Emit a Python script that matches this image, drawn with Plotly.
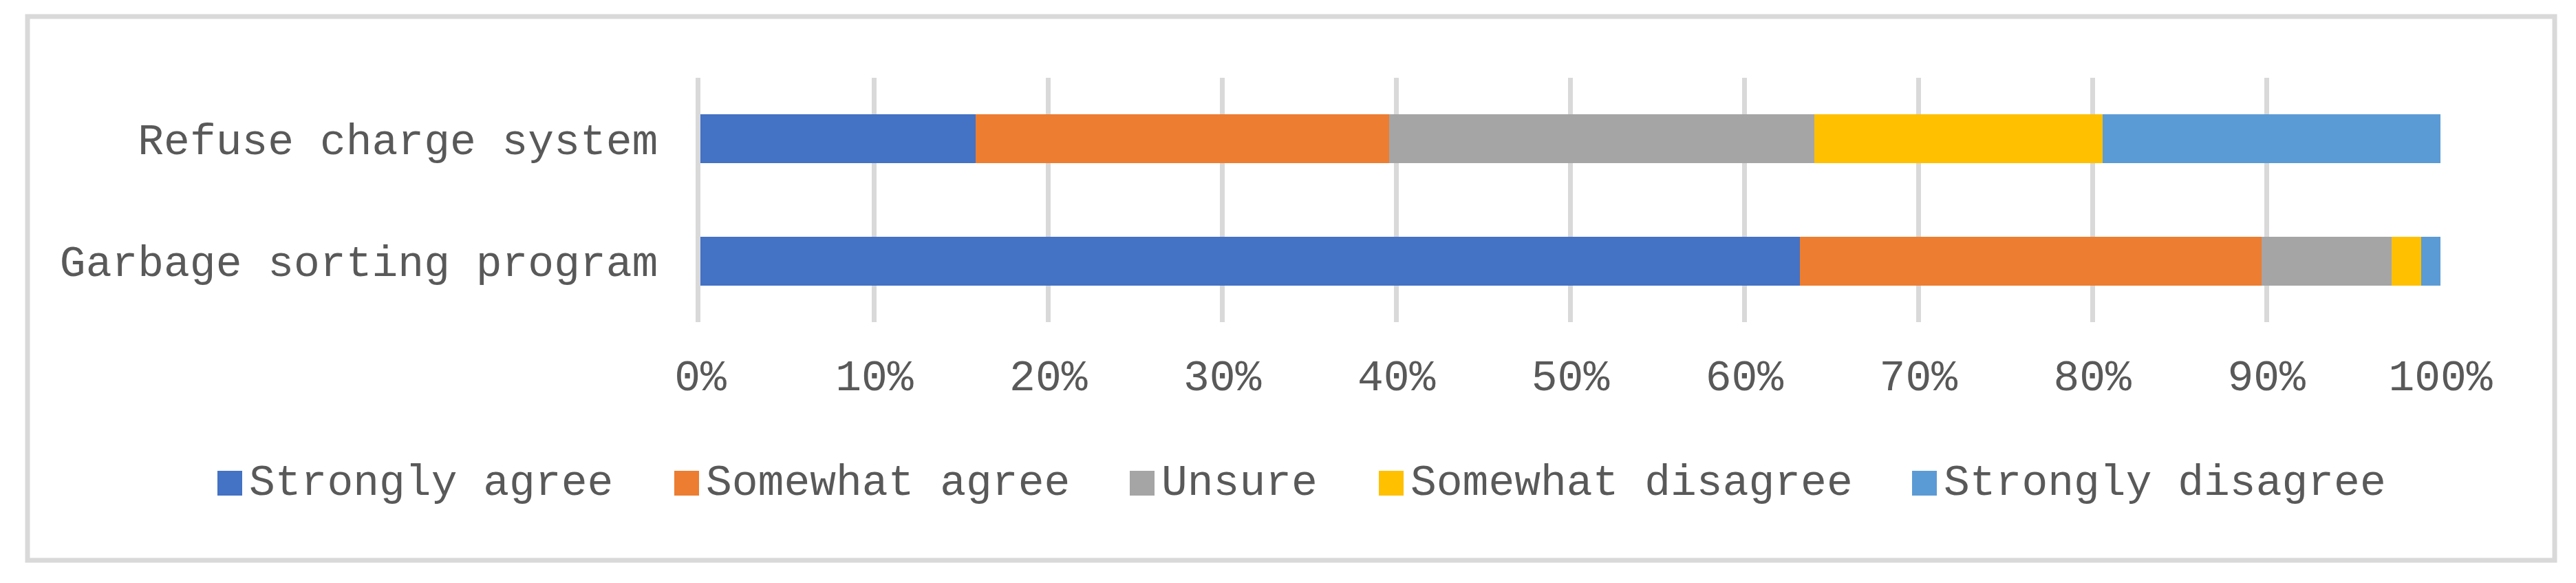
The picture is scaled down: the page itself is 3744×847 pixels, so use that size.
import plotly.graph_objects as go

# ---- data ----
categories = ["Garbage sorting program", "Refuse charge system"]
series_names = ["Strongly agree", "Somewhat agree", "Unsure", "Somewhat disagree", "Strongly disagree"]
strongly_agree = [63.2, 15.8]
somewhat_agree = [26.5, 23.8]
unsure = [7.5, 24.4]
somewhat_disagree = [1.7, 16.6]
strongly_disagree = [1.1, 19.4]
x_tick_values = [0, 10, 20, 30, 40, 50, 60, 70, 80, 90, 100]
x_tick_labels = ["0%", "10%", "20%", "30%", "40%", "50%", "60%", "70%", "80%", "90%", "100%"]

series_values = [strongly_agree, somewhat_agree, unsure, somewhat_disagree, strongly_disagree]
colors = ["#4472C4", "#ED7D31", "#A5A5A5", "#FFC000", "#5B9BD5"]

# The page body has a default 8px margin; compensate so the figure
# lands where the original chart is in the 3744x847 window.
OFF = 8
W, H = 3744 - OFF, 847 - OFF
L = 1018 - OFF            # plot left edge (0%)
T = 113 - OFF             # plot top
PLOT_RIGHT = 3547 - OFF   # 100%
PLOT_BOTTOM = 468 - OFF
R = W - PLOT_RIGHT
B = H - PLOT_BOTTOM
PW = W - L - R
PH = H - T - B

FONT = "Liberation Mono"
FS = 63
TXT = "#595959"
GRID = "#D9D9D9"


def px_x(px):
    """page pixel x -> paper coordinate"""
    return (px - OFF - L) / PW


def px_y(py):
    """page pixel y -> paper coordinate"""
    return (PLOT_BOTTOM - (py - OFF)) / PH


fig = go.Figure()
for name, vals, col in zip(series_names, series_values, colors):
    fig.add_trace(go.Bar(
        y=categories, x=vals, name=name, orientation="h",
        marker=dict(color=col, line=dict(width=0)),
        showlegend=False,
    ))

# manual legend (large square swatches like the original)
legend_square_left = [316, 980, 1642, 2004, 2779]
sq = 36
legend_cy = 702
shapes = []
annotations = []
for name, col, lx in zip(series_names, colors, legend_square_left):
    shapes.append(dict(type="rect", xref="paper", yref="paper",
                       x0=px_x(lx), x1=px_x(lx + sq),
                       y0=px_y(legend_cy + sq / 2), y1=px_y(legend_cy - sq / 2),
                       fillcolor=col, line=dict(width=0)))
    annotations.append(dict(text=name, xref="paper", yref="paper",
                            x=px_x(lx + sq + 8), y=px_y(legend_cy),
                            xanchor="left", yanchor="middle", showarrow=False,
                            font=dict(family=FONT, size=FS, color=TXT)))

# chart border
shapes.append(dict(type="rect", xref="paper", yref="paper",
                   x0=px_x(40), x1=px_x(3713), y0=px_y(814), y1=px_y(24),
                   line=dict(color=GRID, width=7), fillcolor="rgba(0,0,0,0)"))

fig.update_layout(
    width=W, height=H,
    margin=dict(l=L, r=R, t=T, b=B, autoexpand=False),
    paper_bgcolor="white", plot_bgcolor="white",
    barmode="stack", bargap=0.6,
    font=dict(family=FONT, size=FS, color=TXT),
    showlegend=False,
    shapes=shapes, annotations=annotations,
    xaxis=dict(range=[0, 100], tickvals=x_tick_values, ticktext=x_tick_labels,
               showgrid=True, gridcolor=GRID, gridwidth=7,
               zeroline=False, showline=False, ticks="",
               ticklabelstandoff=35,
               tickfont=dict(family=FONT, size=FS, color=TXT)),
    yaxis=dict(range=[-0.5, 1.5], categoryorder="array", categoryarray=categories,
               showgrid=False, zeroline=False,
               showline=True, linecolor=GRID, linewidth=7,
               ticks="",
               ticklabelstandoff=42,
               tickfont=dict(family=FONT, size=FS, color=TXT)),
)

fig.write_html("out.html")
